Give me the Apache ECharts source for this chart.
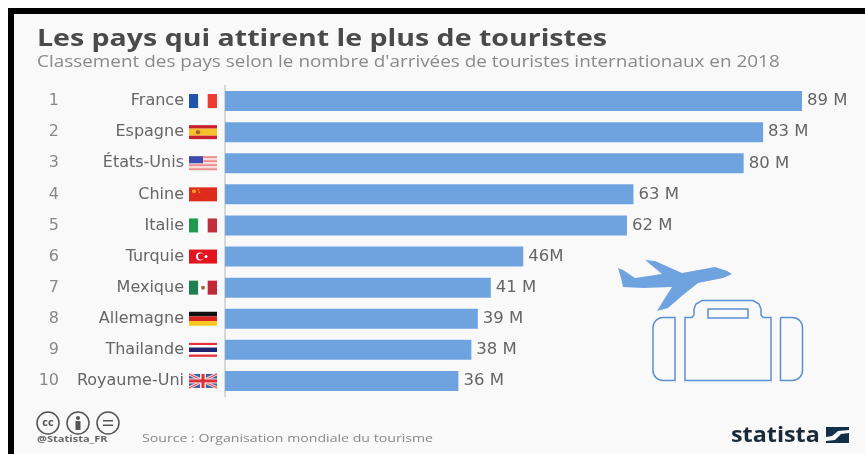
<!DOCTYPE html>
<html>
<head>
<meta charset="utf-8">
<style>
  html, body { margin: 0; padding: 0; background: #fff; }
  #chart { width: 865px; height: 454px; filter: blur(0.4px); }
</style>
<script src="https://cdn.jsdelivr.net/npm/echarts@6/dist/echarts.min.js"></script>
</head>
<body>
<div id="chart"></div>
<script>
const ranks = ['1', '2', '3', '4', '5', '6', '7', '8', '9', '10'];
const countries = ['France', 'Espagne', 'États-Unis', 'Chine', 'Italie', 'Turquie', 'Mexique', 'Allemagne', 'Thailande', 'Royaume-Uni'];
const arrivals = [89, 83, 80, 63, 62, 46, 41, 39, 38, 36];
const valueLabels = ['89 M', '83 M', '80 M', '63 M', '62 M', '46M', '41 M', '39 M', '38 M', '36 M'];
const flags = ['fr', 'es', 'us', 'cn', 'it', 'tr', 'mx', 'de', 'th', 'gb'];

const FONT = '"Open Sans", sans-serif';
const WIDE_FONT = '"DejaVu Sans", sans-serif';
const BLUE = '#6fa3e0';
const LINE_BLUE = '#5b8fcf';
const FLAG_W = 28;
const FLAG_H = 14;

const stripes = (x, y, colors, vertical, weights) => {
  const total = weights ? weights.reduce((a, b) => a + b, 0) : colors.length;
  let pos = 0;
  return colors.map((c, i) => {
    const w = weights ? weights[i] : 1;
    const len = (vertical ? FLAG_W : FLAG_H) * w / total;
    const shape = vertical
      ? { x: x + pos, y: y, width: len, height: FLAG_H }
      : { x: x, y: y + pos, width: FLAG_W, height: len };
    pos += len;
    return { type: 'rect', shape, style: { fill: c } };
  });
};

const flagParts = (code, x, y) => {
  const rect = (rx, ry, w, h, fill) => ({ type: 'rect', shape: { x: x + rx, y: y + ry, width: w, height: h }, style: { fill } });
  const line = (x1, y1, x2, y2, stroke, lineWidth) => ({ type: 'line', shape: { x1: x + x1, y1: y + y1, x2: x + x2, y2: y + y2 }, style: { stroke, lineWidth } });
  const dot = (cx, cy, r, fill) => ({ type: 'circle', shape: { cx: x + cx, cy: y + cy, r }, style: { fill } });
  switch (code) {
    case 'fr': return stripes(x, y, ['#1f55a8', '#fff', '#ee3b33'], true);
    case 'es': return stripes(x, y, ['#c8202c', '#f6c22c', '#c8202c'], false, [1, 2, 1]).concat(dot(9, 7, 2.2, '#a8652a'));
    case 'us': return stripes(x, y, ['#ee8a8a', '#fbdcdc', '#ee8a8a', '#fbdcdc', '#ee8a8a', '#fbdcdc', '#ee8a8a'], false).concat(rect(0, 0, 14, 7, '#3f4ab0'));
    case 'cn': return [rect(0, 0, FLAG_W, FLAG_H, '#dd2c1c'), dot(5, 4, 2, '#f2a51f'), dot(9.5, 2.5, 0.8, '#f2a51f'), dot(10.5, 5, 0.8, '#f2a51f')];
    case 'it': return stripes(x, y, ['#1f9a4c', '#fff', '#c12e3c'], true);
    case 'tr': return [rect(0, 0, FLAG_W, FLAG_H, '#e3131f'), dot(11, 7, 4, '#fff'), dot(12.2, 7, 3.2, '#e3131f'), dot(17, 7, 1.5, '#fff')];
    case 'mx': return stripes(x, y, ['#1f7f50', '#fff', '#c1283a'], true).concat(dot(14, 7, 2, '#9a6a3a'));
    case 'de': return stripes(x, y, ['#111', '#d8231f', '#f9c71c'], false);
    case 'th': return stripes(x, y, ['#e5323c', '#fff', '#20246e', '#fff', '#e5323c'], false, [1, 1, 2, 1, 1]);
    case 'gb': return [
      rect(0, 0, FLAG_W, FLAG_H, '#3d5ea8'),
      line(0, 0, FLAG_W, FLAG_H, '#f4d0d0', 3), line(FLAG_W, 0, 0, FLAG_H, '#f4d0d0', 3),
      line(0, 0, FLAG_W, FLAG_H, '#d8404a', 1), line(FLAG_W, 0, 0, FLAG_H, '#d8404a', 1),
      rect(11, 0, 6, FLAG_H, '#f4e4e4'), rect(0, 4.5, FLAG_W, 5, '#f4e4e4'),
      rect(12.5, 0, 3, FLAG_H, '#d8323c'), rect(0, 5.5, FLAG_W, 3, '#d8323c')
    ];
  }
  return [];
};

const chart = echarts.init(document.getElementById('chart'), null, { renderer: 'canvas' });

const stroke = { fill: 'none', stroke: LINE_BLUE, lineWidth: 1.5 };
const option = {
  animation: false,
  backgroundColor: '#fff',
  textStyle: { fontFamily: FONT },
  grid: { left: 225, top: 85.5, width: 577, height: 311, containLabel: false },
  xAxis: { type: 'value', min: 0, max: 89, show: false },
  yAxis: [
    {
      type: 'category', inverse: true, data: countries,
      axisLine: { show: true, lineStyle: { color: '#d9d9d9', width: 2 } },
      axisTick: { show: false },
      axisLabel: { margin: 41, color: '#666', fontSize: 16, fontFamily: WIDE_FONT, interval: 0 }
    },
    {
      type: 'category', inverse: true, data: ranks, position: 'left', offset: 0,
      axisLine: { show: false }, axisTick: { show: false },
      axisLabel: { margin: 166, color: '#888', fontSize: 16, fontFamily: WIDE_FONT, interval: 0 }
    }
  ],
  series: [
    {
      type: 'bar', data: arrivals, barWidth: 20, yAxisIndex: 0,
      itemStyle: { color: BLUE },
      label: {
        show: true, position: 'right', distance: 5, color: '#666', fontSize: 16.5, fontFamily: WIDE_FONT,
        formatter: (p) => valueLabels[p.dataIndex]
      }
    },
    {
      type: 'custom', yAxisIndex: 0, clip: false, silent: true,
      data: flags.map((f, i) => [0, i]),
      encode: { x: 0, y: 1 },
      renderItem: (params, api) => {
        const pt = api.coord([0, api.value(1)]);
        return {
          type: 'group',
          children: flagParts(flags[params.dataIndex], pt[0] - 36, pt[1] - FLAG_H / 2)
        };
      }
    }
  ],
  graphic: [
    // fond et cadre
    { type: 'rect', z: -10, shape: { x: 8, y: 8, width: 857, height: 446 }, style: { fill: '#000' } },
    { type: 'rect', z: -9, shape: { x: 14, y: 14, width: 851, height: 440 }, style: { fill: '#f9f9f9' } },
    { type: 'text', x: 37, y: 28, scaleX: 1.24, style: { text: 'Les pays qui attirent le plus de touristes', fill: '#4a4a4a', font: 'bold 23px ' + FONT } },
    { type: 'text', x: 37, y: 55, scaleX: 1.22, style: { text: "Classement des pays selon le nombre d'arrivées de touristes internationaux en 2018", fill: '#8a8a8a', font: '15.5px ' + FONT } },
    // avion
    {
      type: 'polygon',
      shape: { points: [[618, 268], [623, 270], [635, 278], [662, 274], [645, 260], [655, 261], [682, 273], [715, 267], [727, 271], [732, 274], [723, 278], [698, 283], [683, 295], [668, 308], [657, 311], [665, 298], [672, 287], [643, 288], [623, 287], [621, 278]] },
      style: { fill: BLUE }
    },
    // valise
    { type: 'rect', shape: { x: 653, y: 317.5, width: 22, height: 63, r: [10, 0, 0, 10] }, style: stroke },
    { type: 'rect', shape: { x: 780.5, y: 317.5, width: 22, height: 63, r: [0, 10, 10, 0] }, style: stroke },
    { type: 'polygon', shape: { points: [[685, 317.5], [692, 317.5], [694, 315], [694, 309], [696, 304], [702, 300.5], [753, 300.5], [759, 304], [761, 309], [761, 315], [763, 317.5], [771, 317.5], [771, 380.5], [685, 380.5]] }, style: stroke },
    { type: 'rect', shape: { x: 708, y: 309, width: 40, height: 9 }, style: stroke },
    // licence
    { type: 'circle', shape: { cx: 48, cy: 423, r: 11 }, style: { fill: 'none', stroke: '#555', lineWidth: 1.5 } },
    { type: 'text', x: 48, y: 423, style: { text: 'cc', fill: '#555', font: 'bold 11px ' + FONT, align: 'center', verticalAlign: 'middle' } },
    { type: 'circle', shape: { cx: 78, cy: 423, r: 11 }, style: { fill: 'none', stroke: '#555', lineWidth: 1.5 } },
    { type: 'circle', shape: { cx: 78, cy: 418, r: 2 }, style: { fill: '#555' } },
    { type: 'rect', shape: { x: 75.5, y: 421, width: 5, height: 9 }, style: { fill: '#555' } },
    { type: 'circle', shape: { cx: 108, cy: 423, r: 11 }, style: { fill: 'none', stroke: '#555', lineWidth: 1.5 } },
    { type: 'rect', shape: { x: 103, y: 420, width: 10, height: 1.5 }, style: { fill: '#555' } },
    { type: 'rect', shape: { x: 103, y: 424.5, width: 10, height: 1.5 }, style: { fill: '#555' } },
    { type: 'text', x: 37, y: 435, scaleX: 1.3, style: { text: '@Statista_FR', fill: '#666', font: 'bold 8.5px ' + FONT } },
    { type: 'text', x: 142, y: 433, scaleX: 1.23, style: { text: 'Source : Organisation mondiale du tourisme', fill: '#888', font: '11.5px ' + FONT } },
    // logo
    { type: 'text', x: 731, y: 426, scaleX: 1.11, style: { text: 'statista', fill: '#1b2a3a', font: 'bold 21px ' + FONT } },
    { type: 'rect', shape: { x: 826, y: 427, width: 23, height: 16 }, style: { fill: '#12304a' } },
    { type: 'polygon', shape: { points: [[826, 437], [832, 436], [838, 431], [849, 430], [849, 433], [841, 434], [835, 440], [826, 441]] }, style: { fill: '#f9f9f9' } }
  ]
};
chart.setOption(option);
</script>
</body>
</html>
